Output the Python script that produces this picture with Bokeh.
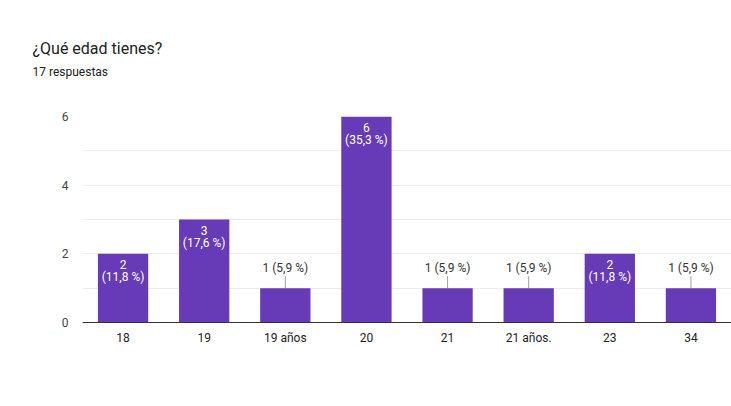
from bokeh.plotting import figure
from bokeh.models import FactorRange, Range1d, FixedTicker, Title, ColumnDataSource
from bokeh.core.properties import value
from bokeh.embed import file_html
from bokeh.resources import INLINE

title_text = "¿Qué edad tienes?"
subtitle_text = "17 respuestas"
categories = ["18", "19", "19 años", "20", "21", "21 años.", "23", "34"]
counts = [2, 3, 1, 6, 1, 1, 2, 1]
percents = ["11,8 %", "17,6 %", "5,9 %", "35,3 %", "5,9 %", "5,9 %", "11,8 %", "5,9 %"]
y_ticks = [0, 2, 4, 6]
grid_ticks = [0, 1, 2, 3, 4, 5, 6]

FONT = "Roboto"
BAR = "#673AB7"

W, H = 731, 406
p = figure(x_range=FactorRange(factors=categories), y_range=Range1d(0, 6),
           width=W, height=H, output_backend="svg", toolbar_location=None,
           min_border_left=82, min_border_right=0, min_border_top=116, min_border_bottom=84)
p.outline_line_color = None
p.background_fill_color = "white"
p.border_fill_color = "white"

p.vbar(x=categories, top=counts, width=0.62, color=BAR, line_color=None)

# axes
p.xaxis.axis_line_color = "#333333"
p.xaxis.major_tick_line_color = None
p.xaxis.minor_tick_line_color = None
p.xaxis.major_tick_out = 0
p.xaxis.major_tick_in = 0
p.xaxis.major_label_text_font = FONT
p.xaxis.major_label_text_font_size = "12px"
p.xaxis.major_label_text_color = "#222222"
p.xaxis.major_label_standoff = 8

p.yaxis.axis_line_color = None
p.yaxis.major_tick_line_color = None
p.yaxis.minor_tick_line_color = None
p.yaxis.major_tick_out = 0
p.yaxis.major_tick_in = 0
p.yaxis.ticker = FixedTicker(ticks=y_ticks)
p.yaxis.major_label_text_font = FONT
p.yaxis.major_label_text_font_size = "12px"
p.yaxis.major_label_text_color = "#444444"
p.yaxis.major_label_standoff = 14

p.xgrid.grid_line_color = None
p.ygrid.ticker = FixedTicker(ticks=grid_ticks)
p.ygrid.grid_line_color = "#ececec"

inside = [i for i, c in enumerate(counts) if c >= 2]
outside = [i for i, c in enumerate(counts) if c < 2]

src_in = ColumnDataSource(dict(
    x=[categories[i] for i in inside],
    y=[counts[i] for i in inside],
    n=[str(counts[i]) for i in inside],
    pct=["(" + percents[i] + ")" for i in inside],
))
p.text(x="x", y="y", text="n", source=src_in, y_offset=11, text_align="center",
       text_baseline="middle", text_color="white", text_font=value(FONT),
       text_font_size="12px")
p.text(x="x", y="y", text="pct", source=src_in, y_offset=23, text_align="center",
       text_baseline="middle", text_color="white", text_font=value(FONT),
       text_font_size="12px")

src_out = ColumnDataSource(dict(
    x=[categories[i] for i in outside],
    y=[counts[i] for i in outside],
    y1=[counts[i] + 0.35 for i in outside],
    lab=[str(counts[i]) + " (" + percents[i] + ")" for i in outside],
))
p.segment(x0="x", y0="y", x1="x", y1="y1", source=src_out, line_color="#9e9e9e", line_width=1)
p.text(x="x", y="y", text="lab", source=src_out, y_offset=-20, text_align="center",
       text_baseline="middle", text_color="#333333", text_font=value(FONT),
       text_font_size="12px")

# spacer panel next to the frame, then subtitle, then main title on top
p.add_layout(Title(text=" ", standoff=30, text_font_size="2px"), "above")
p.add_layout(Title(text=subtitle_text, align="left", offset=-50, standoff=8,
                   text_font=FONT, text_font_size="12px", text_color="#202124",
                   text_font_style="normal"), "above")
p.add_layout(Title(text=title_text, align="left", offset=-50, standoff=2,
                   text_font=FONT, text_font_size="16px", text_color="#202124",
                   text_font_style="normal"), "above")

open("out.html", "w").write(file_html(p, INLINE))
